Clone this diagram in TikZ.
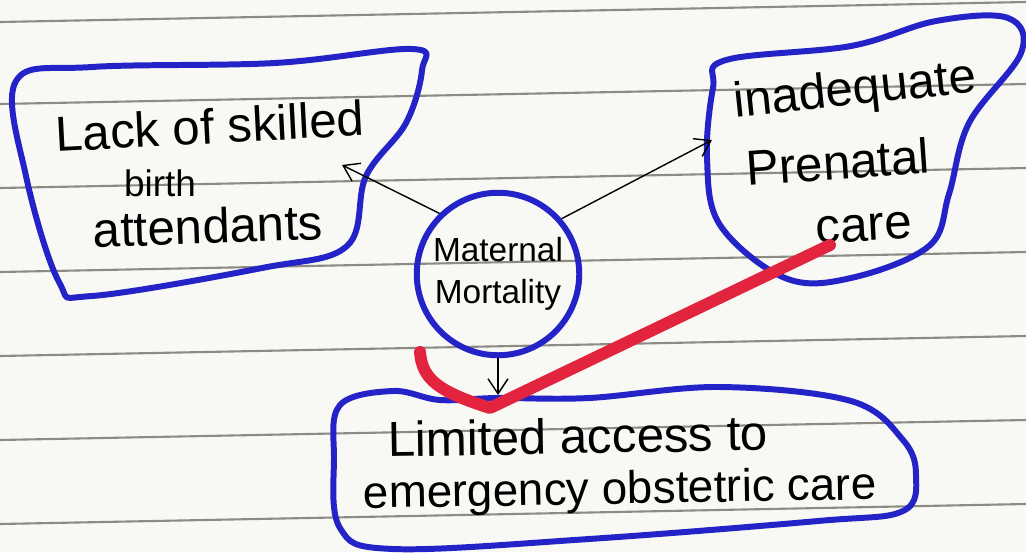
\documentclass[tikz,border=0pt]{standalone}
\usepackage{fontspec}
\setmainfont{Liberation Sans}
\usetikzlibrary{positioning}
\usetikzlibrary{arrows.meta}
\definecolor{ink}{HTML}{2323C8}
\definecolor{marker}{HTML}{E2243E}
\definecolor{paper}{HTML}{F8F8F4}
\definecolor{rulegray}{HTML}{8C8C84}

\begin{document}
\begin{tikzpicture}[x=0.2mm,y=-0.2mm,
   blob/.style={draw=ink,line width=3.4pt,line join=round},
   hand/.style={font=\fontsize{28}{32}\selectfont,inner sep=0pt},
   ruled/.style={rulegray,line width=1.2pt},
   >={Straight Barb[length=3mm,width=4mm]}]
   \useasboundingbox (0,0) rectangle (1026,552);
   \fill[paper] (0,0) rectangle (1026,552);
   \foreach \y in {22,104,188,272,356,440,524}
     \draw[ruled] (0,\y) -- (1026,\y-20);

   % the three clouds
   \draw[blob] plot[smooth cycle,tension=0.6] coordinates {(16,81) (92,67) (275,63) (412,49) (422,70) (406,123) (366,176) (347,246) (262,268) (92,296) (59,282) (26,176)};
   \draw[blob] plot[smooth cycle,tension=0.6] coordinates {(726,60) (851,46) (936,21) (1008,18) (1021,53) (969,123) (949,194) (929,246) (851,278) (785,278) (720,225) (707,158) (713,88)};
   \draw[blob] plot[smooth cycle,tension=0.6] coordinates {(340,405) (393,391) (440,400) (497,398) (589,398) (720,387) (851,401) (903,440) (916,475) (903,511) (818,521) (589,539) (393,549) (340,528) (334,458)};

   \node[hand,rotate=3] (lack) at (210,126) {Lack of skilled};
   \node[hand,font=\fontsize{21}{25}\selectfont] (birth) at (160,183) {birth};
   \node[hand,rotate=2] (attend) at (208,226) {attendants};
   \node[hand,rotate=6] (inad) at (855,92) {inadequate};
   \node[hand,rotate=4] (pren) at (838,162) {Prenatal};
   \node[hand,rotate=3] (carep) at (864,228) {care};
   \node[hand,rotate=1] (limited) at (578,436) {Limited access to};
   \node[hand,rotate=1,font=\fontsize{26}{30}\selectfont] (emerg) at (620,492) {emergency obstetric care};

   \node[blob,circle,minimum size=32.5mm,align=center,inner sep=0pt,
         font=\fontsize{19}{24}\selectfont] (mm) at (498,274) {Maternal\\Mortality};

   \coordinate (lacktip) at (342,165);
   \coordinate (prentip) at (712,140);
   \coordinate (limtip) at (498,395);
   \draw[->,thick] (mm.134) -- (lacktip);
   \draw[->,thick] (mm.41) -- (prentip);
   \draw[->,thick] (mm.south) -- (limtip);

   % red tick over it all
   \draw[marker,line width=6.8pt,line cap=round,line join=round]
     (420,352) .. controls (422,380) and (440,392) .. (490,408) -- (830,245);
\end{tikzpicture}
\end{document}
